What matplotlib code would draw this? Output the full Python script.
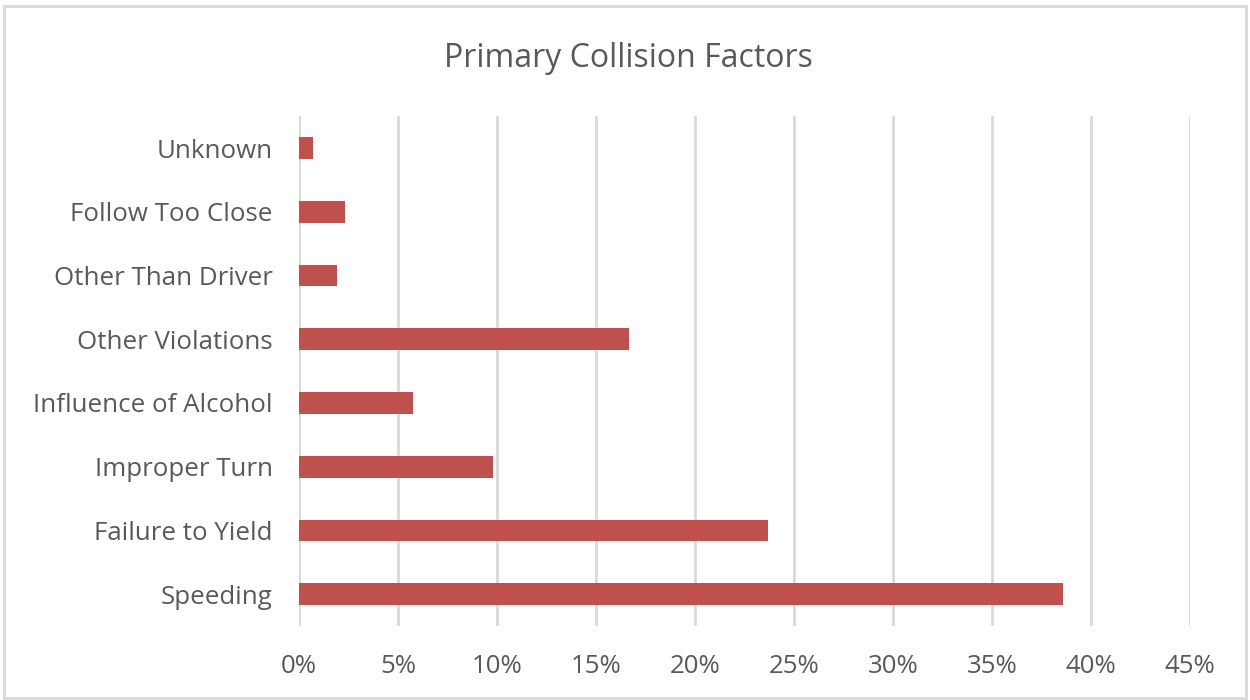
import matplotlib.pyplot as plt
from matplotlib.patches import Rectangle
from matplotlib.ticker import FuncFormatter

plt.rcParams['font.family'] = ['Open Sans', 'DejaVu Sans']

# bottom to top, as drawn
factors = ['Speeding', 'Failure to Yield', 'Improper Turn', 'Influence of Alcohol',
           'Other Violations', 'Other Than Driver', 'Follow Too Close', 'Unknown']
shares = [38.6, 23.7, 9.8, 5.75, 16.65, 1.9, 2.3, 0.7]

text_col = '#595959'
grid_col = '#d9d9d9'

fig = plt.figure(figsize=(12.5, 7), dpi=100)
ax = fig.add_axes([0.2392, 0.1057, 0.952 - 0.2392, 0.834 - 0.1057])

ax.barh(range(len(factors)), shares, height=0.34, color='#c0504d', zorder=3)

ax.set_xlim(0, 45)
ax.set_ylim(-0.5, len(factors) - 0.5)
ax.set_xticks(range(0, 46, 5))
ax.xaxis.set_major_formatter(FuncFormatter(lambda v, p: f'{v:.0f}%'))
ax.set_yticks(range(len(factors)))
ax.set_yticklabels(factors)
ax.grid(axis='x', color=grid_col, linewidth=2, zorder=0)
for s in ax.spines.values():
    s.set_visible(False)
ax.tick_params(length=0, labelsize=18.6, colors=text_col)
ax.tick_params(axis='y', pad=19)
ax.tick_params(axis='x', pad=20)

fig.text(0.503, 0.917, 'Primary Collision Factors', ha='center', va='center',
         fontsize=23, color=text_col)
fig.patches.append(Rectangle((0.003, 0.003), 0.994, 0.988, transform=fig.transFigure,
                             fill=False, edgecolor=grid_col, linewidth=2))

fig.savefig('out.png', dpi=100, facecolor='white')
